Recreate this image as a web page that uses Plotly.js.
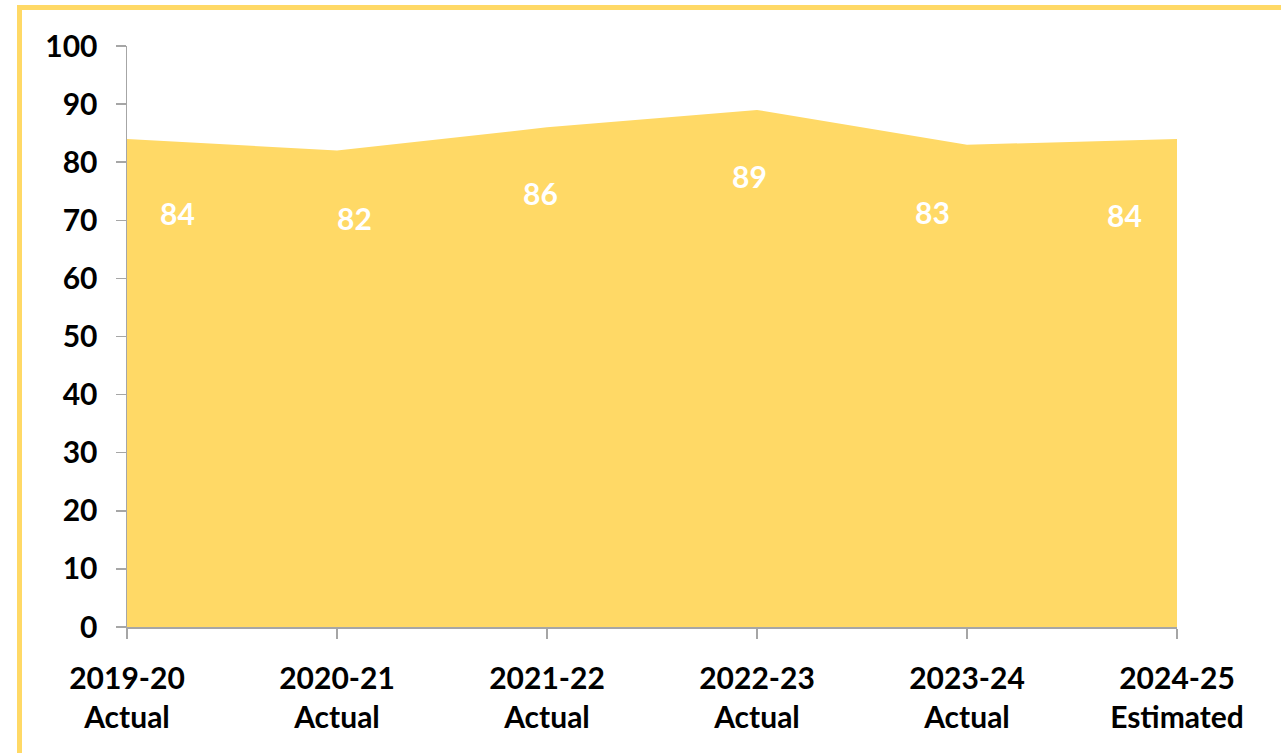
<!DOCTYPE html>
<html>
<head>
<meta charset="utf-8">
<script src="https://cdn.plot.ly/plotly-3.0.1.min.js"></script>
<style>
  html, body { margin: 0; padding: 0; background: #ffffff; }
  #chart { width: 1281px; height: 753px; }
</style>
</head>
<body>
<div id="chart"></div>
<script>
// ---- data ----
const years = ["2019-20", "2020-21", "2021-22", "2022-23", "2023-24", "2024-25"];
const status = ["Actual", "Actual", "Actual", "Actual", "Actual", "Estimated"];
const values = [84, 82, 86, 89, 83, 84];
const yTicks = [0, 10, 20, 30, 40, 50, 60, 70, 80, 90, 100];

// ---- styling ----
const W = 1281, H = 753;
const M = { l: 127, r: 104, t: 46, b: 126 };
const fillColor = "#FFD966";
const fontFam = "Lato, 'Open Sans', 'Liberation Sans', sans-serif";
// label placement offsets (pixels) mimicking the spreadsheet's label positions
const labelDx = [50, 17, -7, -8, -35, -53];
const labelDy = [-74, -67, -66, -66, -67, -76];

const categories = years.map((y, i) => y + "<br>" + status[i]);

const trace = {
  type: "scatter",
  x: categories,
  y: values,
  mode: "none",
  fill: "tozeroy",
  fillcolor: fillColor,
  hoverinfo: "skip",
  showlegend: false
};

const annotations = values.map((v, i) => ({
  x: categories[i], y: v, xref: "x", yref: "y",
  text: String(v), showarrow: false,
  xanchor: "center", yanchor: "middle",
  xshift: labelDx[i], yshift: labelDy[i],
  font: { family: fontFam, size: 30, color: "#ffffff", weight: "bold" }
}));

// frame border (partly outside the picture on the right and bottom)
const pw = W - M.l - M.r, ph = H - M.t - M.b;
const px = p => (p - M.l) / pw;
const py = p => (H - M.b - p) / ph;

const layout = {
  width: W, height: H,
  margin: M,
  paper_bgcolor: "#ffffff",
  plot_bgcolor: "#ffffff",
  showlegend: false,
  xaxis: {
    type: "category",
    range: [0, categories.length - 1],
    showgrid: false, zeroline: false,
    showline: true, linecolor: "#A6A6A6", linewidth: 1.5,
    ticks: "outside", ticklen: 10, tickcolor: "#A6A6A6", tickwidth: 1.5,
    ticklabelstandoff: 14,
    tickfont: { family: fontFam, size: 30, color: "#000000", weight: "bold" },
    fixedrange: true
  },
  yaxis: {
    range: [0, 100],
    tickvals: yTicks,
    showgrid: false, zeroline: false,
    showline: true, linecolor: "#A6A6A6", linewidth: 1.5,
    ticks: "outside", ticklen: 10, tickcolor: "#A6A6A6", tickwidth: 1.5,
    ticklabelstandoff: 12,
    tickfont: { family: fontFam, size: 30, color: "#000000", weight: "bold" },
    fixedrange: true
  },
  annotations: annotations,
  shapes: [{
    type: "rect", xref: "paper", yref: "paper", layer: "above",
    x0: px(19.5), x1: px(W + 20), y0: py(H + 20), y1: py(7.5),
    line: { color: fillColor, width: 5 }, fillcolor: "rgba(0,0,0,0)"
  }]
};

Plotly.newPlot("chart", [trace], layout, { displayModeBar: false, staticPlot: true });
</script>
</body>
</html>
